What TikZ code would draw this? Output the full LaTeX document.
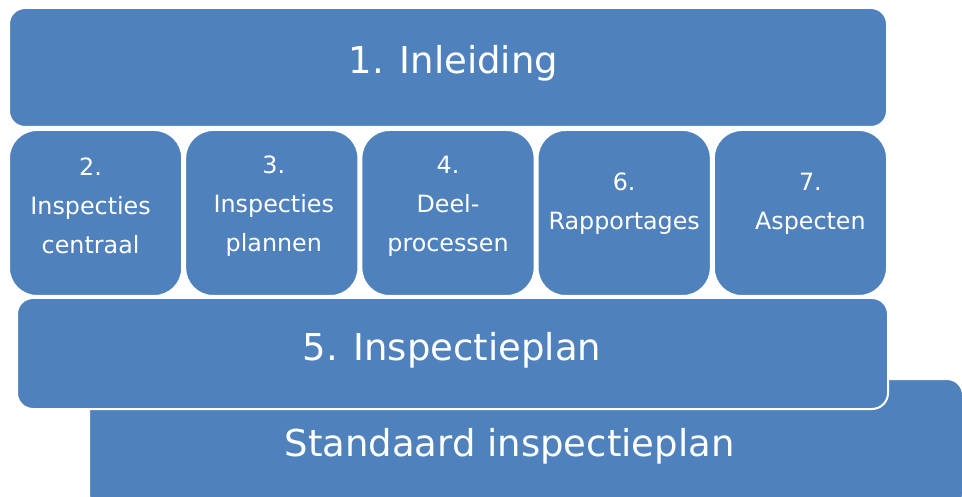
\documentclass[tikz,border=0pt]{standalone}
\usepackage{fontspec}
\setmainfont{DejaVu Sans}
\usepackage{xcolor}
\usetikzlibrary{positioning}
\definecolor{blokblauw}{RGB}{79,129,189}
\tikzstyle{blok} = [rectangle, draw=white, line width=2pt, fill=blokblauw, inner sep=0pt, outer sep=0pt]
\tikzstyle{hoofdblok} = [blok, rounded corners=16pt]
\tikzstyle{deelblok} = [blok, rounded corners=28pt, minimum width=173.2pt, minimum height=166pt]
\tikzstyle{titel} = [text=white, align=center, inner sep=0pt, font=\fontsize{37}{44}\selectfont]
\tikzstyle{deeltekst} = [text=white, align=center, inner sep=0pt, font=\fontsize{23.8}{39}\selectfont]

\begin{document}
\begin{tikzpicture}[x=1pt, y=1pt, node distance=3pt]
\useasboundingbox (0,0) rectangle (962,-497);
\clip (0,0) rectangle (962,-497);

% Onderste laag
\node [hoofdblok, minimum width=874pt, minimum height=131pt] (standaard) at (526,-444.5) {};
\node [titel] (standaardtekst) at (509.5,-446) {Standaard inspectieplan};

% Inleiding
\node [hoofdblok, minimum width=878pt, minimum height=119pt] (inleiding) at (448,-67.5) {};
\node [titel] (inleidingtekst) at (453.5,-63) {1. Inleiding};

% Hoofdstukken
\node [deelblok] (h2) at (95.6,-213) {};
\node [deelblok, right=of h2] (h3) {};
\node [deelblok, right=of h3] (h4) {};
\node [deelblok, right=of h4] (h6) {};
\node [deelblok, right=of h6] (h7) {};
\node [deeltekst] (h2tekst) at ([xshift=-5pt,yshift=7pt]h2.center) {2.\\Inspecties\\centraal};
\node [deeltekst] (h3tekst) at ([xshift=2pt,yshift=7pt]h3.center) {3.\\Inspecties\\plannen};
\node [deeltekst] (h4tekst) at ([yshift=7pt]h4.center) {4.\\Deel-\\processen};
\node [deeltekst] (h6tekst) at ([yshift=9pt]h6.center) {6.\\Rapportages};
\node [deeltekst] (h7tekst) at ([xshift=10pt,yshift=9pt]h7.center) {7.\\Aspecten};

% Inspectieplan
\node [hoofdblok, minimum width=871pt, minimum height=111pt] (plan) at (452.5,-353.5) {};
\node [titel] (plantekst) at (452,-350) {5. Inspectieplan};

\end{tikzpicture}
\end{document}
